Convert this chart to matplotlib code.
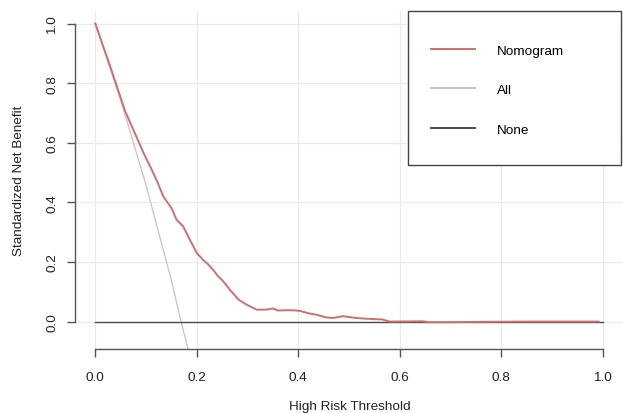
import matplotlib
matplotlib.use("Agg")
import matplotlib.pyplot as plt
from matplotlib.lines import Line2D
from matplotlib.patches import Rectangle

# Nomogram decision curve (threshold, standardized net benefit)
nomo_x = [0.0, 0.030, 0.059, 0.078, 0.095, 0.108, 0.122, 0.134, 0.143, 0.150, 0.155,
          0.160, 0.167, 0.173, 0.186, 0.200, 0.212, 0.223, 0.233, 0.242, 0.249,
          0.257, 0.265, 0.274, 0.282, 0.298, 0.318, 0.337, 0.350, 0.360, 0.375,
          0.390, 0.403, 0.422, 0.436, 0.455, 0.468, 0.488, 0.514, 0.540, 0.566,
          0.580, 0.645, 0.658, 0.697, 0.750, 0.850, 0.992]
nomo_y = [1.0, 0.853, 0.705, 0.632, 0.566, 0.521, 0.470, 0.420, 0.398, 0.381, 0.362,
          0.342, 0.330, 0.320, 0.276, 0.230, 0.208, 0.191, 0.172, 0.152, 0.141,
          0.125, 0.107, 0.090, 0.074, 0.057, 0.040, 0.040, 0.044, 0.037, 0.038,
          0.038, 0.036, 0.027, 0.023, 0.014, 0.012, 0.018, 0.012, 0.009, 0.007,
          0.0, 0.001, -0.002, -0.002, -0.001, 0.0, 0.0]

# Treat-all curve
all_x = [0.0, 0.05, 0.10, 0.15, 0.169, 0.183]
all_y = [1.0, 0.743, 0.458, 0.138, 0.0, -0.094]

# Treat-none
none_x = [0.0, 1.0]
none_y = [0.0, 0.0]

xticks = [0.0, 0.2, 0.4, 0.6, 0.8, 1.0]
yticks = [0.0, 0.2, 0.4, 0.6, 0.8, 1.0]
labels = ["Nomogram", "All", "None"]

plt.rcParams['font.family'] = ['Liberation Sans', 'DejaVu Sans']
fs = 9.7

fig = plt.figure(figsize=(6.23, 4.14), dpi=100)
ax = fig.add_axes([75/623, 1-350/414, 548/623, 338/414])

red = '#CF6F6F'
lgray = '#C4C4C4'
dgray = '#4A4A4A'

ax.set_xlim(-0.04, 1.04)
ax.set_ylim(-0.092, 1.042)
ax.grid(True, color='#EBEBEB', lw=0.9)
ax.set_axisbelow(True)

ax.plot(all_x, all_y, color=lgray, lw=0.9, zorder=2)
ax.plot(none_x, none_y, color=dgray, lw=1.0, zorder=3)
ax.plot(nomo_x, nomo_y, color=red, lw=1.4, zorder=4)

for s in ['top', 'right']:
    ax.spines[s].set_visible(False)
ax.spines['left'].set_bounds(0, 1)
ax.spines['bottom'].set_bounds(0, 1)
for s in ['left', 'bottom']:
    ax.spines[s].set_color('#555555')
    ax.spines[s].set_linewidth(1.0)

ax.set_xticks(xticks)
ax.set_yticks(yticks)
ax.set_xticklabels([f"{v:.1f}" for v in xticks], fontsize=fs, color='#222222')
ax.set_yticklabels([f"{v:.1f}" for v in yticks], fontsize=fs, color='#222222',
                   rotation=90, va='center')
ax.tick_params(axis='both', length=6, width=1.0, color='#555555', direction='out')
ax.tick_params(axis='x', pad=10)
ax.tick_params(axis='y', pad=6)

fig.text(19/623, 1-181/414, "Standardized Net Benefit", rotation=90, ha='center',
         va='center', fontsize=fs, color='#222222')
fig.text(350/623, 1-407/414, "High Risk Threshold", ha='center', va='center',
         fontsize=fs, color='#222222')

# legend box
ax.add_patch(Rectangle((0.608, 0.544), 0.388, 0.456, transform=ax.transAxes,
                       fill=True, facecolor='white', edgecolor='#444444', lw=1.0,
                       zorder=10, clip_on=False))
handles = [Line2D([], [], color=red, lw=1.4),
           Line2D([], [], color=lgray, lw=1.4),
           Line2D([], [], color=dgray, lw=1.4)]
leg = ax.legend(handles, labels, loc='upper left', bbox_to_anchor=(0.591, 0.995),
                frameon=False, fontsize=fs, handlelength=3.3, handletextpad=1.6,
                labelspacing=2.0, borderpad=2.35, borderaxespad=0)
leg.set_zorder(11)

fig.savefig("out.png", dpi=100)
